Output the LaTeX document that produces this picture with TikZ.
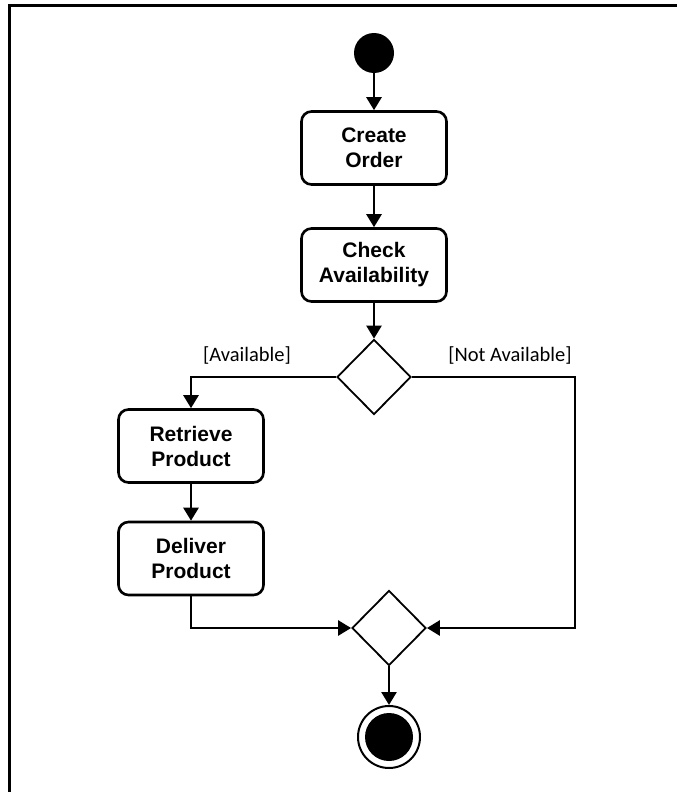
\documentclass[tikz,border=0pt]{standalone}
\usepackage{fontspec}
\setmainfont{Liberation Sans}
\newfontfamily\guardfont{Carlito}
\usepackage{tikz}
\usetikzlibrary{arrows.meta}
\usetikzlibrary{shapes.geometric}
\tikzset{action/.style={draw,line width=2.6pt,rounded corners=10pt,
                        minimum width=145pt,minimum height=73pt,inner sep=0pt,
                        align=center,font=\fontsize{21}{25}\selectfont\bfseries}}
\tikzset{choice/.style={draw,diamond,line width=1.8pt,fill=white,
                        minimum width=74pt,minimum height=75pt,inner sep=0pt}}
\tikzset{guard/.style={font=\guardfont\fontsize{20.5}{22}\selectfont,inner sep=0pt}}
\tikzset{flow/.style={line width=2.6pt,-{Triangle[length=13pt,width=15pt]}}}

\begin{document}
\begin{tikzpicture}[x=1pt,y=-1pt]
    \useasboundingbox (0,0) rectangle (677,792);
    % frame of the diagram
    \draw[line width=3pt] (9.5,792) -- (9.5,5.5) -- (677,5.5);

    % Start and actions
    \node[circle,fill,minimum size=40pt,inner sep=0pt] (start) at (374,53) {};
    \node[action] (create) at (374,148) {Create\\Order};
    \node[action] (check) at (374,265) {Check\\Availability};

    % Decision and its guards
    \node[choice] (decide) at (374,377) {};
    \node[guard] (avail) at (247,355) {[Available]};
    \node[guard] (notavail) at (510,355) {[Not Available]};

    % Left branch
    \node[action] (retrieve) at (191,446) {Retrieve\\Product};
    \node[action] (deliver) at (191,558.5) {Deliver\\Product};

    % Merge and end
    \node[choice] (merge) at (389,628) {};
    \node[circle,draw,line width=2pt,minimum size=62pt,inner sep=0pt] (stop) at (389,737) {};
    \fill (stop.center) circle (24pt);
    \coordinate (corner) at (575,377);

    % Connect everything
    \draw[flow] (start) -- (create);
    \draw[flow] (create) -- (check);
    \draw[flow] (check) -- (decide);
    \draw[flow] (decide.west) -| (retrieve.north);
    \draw[flow] (retrieve) -- (deliver);
    \draw[flow] (deliver.south) |- (merge.west);
    \draw[flow] (decide.east) -- (corner) |- (merge.east);
    \draw[flow] (merge) -- (stop);
\end{tikzpicture}
\end{document}
